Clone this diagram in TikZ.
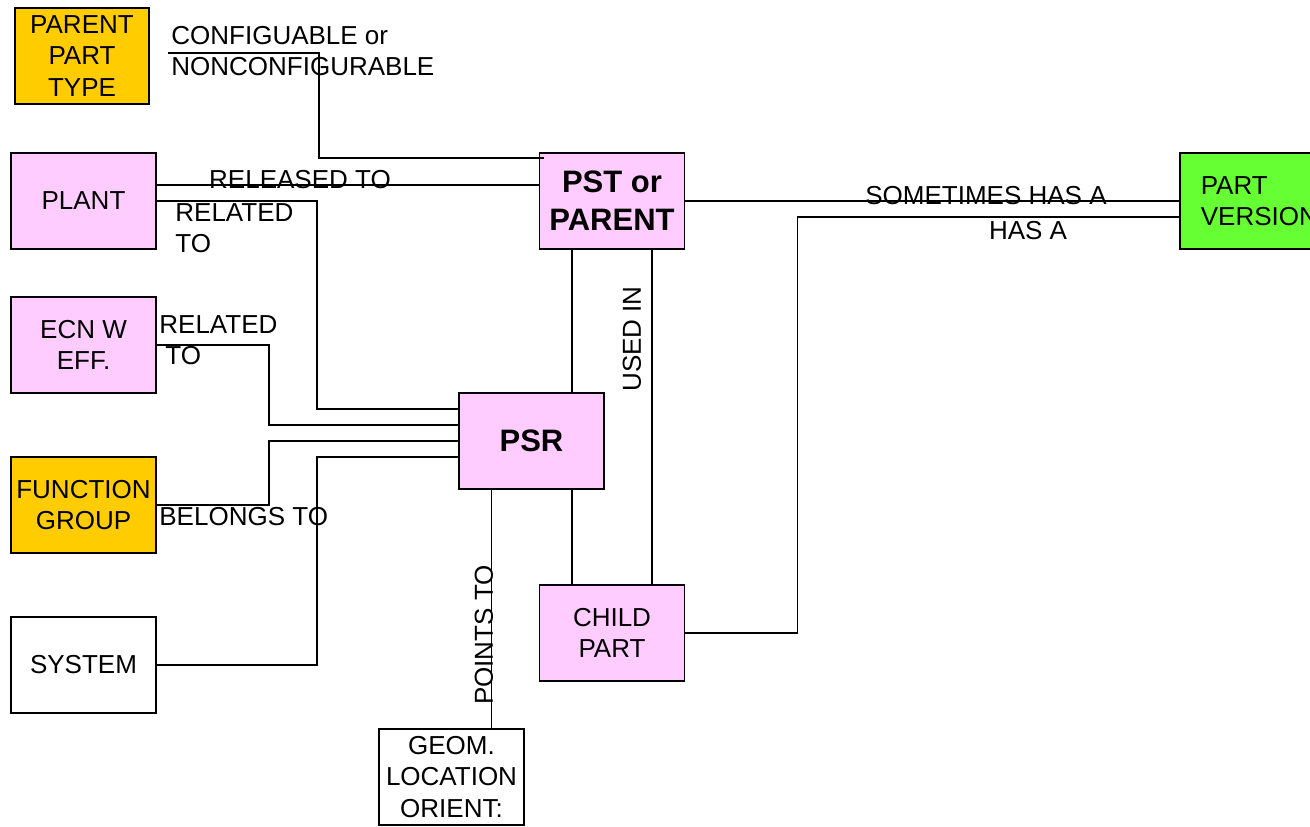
\documentclass[tikz,border=0pt]{standalone}
\usepackage{fontspec}
\setmainfont{Liberation Sans}
\definecolor{psrpink}{HTML}{FFCCFF}
\definecolor{psryellow}{HTML}{FFCC00}
\definecolor{psrgreen}{HTML}{66FF33}
\usetikzlibrary{calc}

\begin{document}
\begin{tikzpicture}[
    x=0.5pt, y=-0.5pt,
    entity/.style={draw, line width=0.8pt, minimum width=72.5pt,
                   minimum height=48pt, align=center, inner sep=1pt,
                   font=\fontsize{13}{15.75}\selectfont},
    keyentity/.style={entity, font=\fontsize{15.5}{19}\selectfont\bfseries},
    link/.style={line width=0.8pt},
    linktext/.style={inner sep=0pt, font=\fontsize{13}{15.5}\selectfont}
]
\useasboundingbox (0,0) rectangle (1310,826);

% ── Left column ──
\node[entity, fill=psryellow, minimum width=67pt] (ptype) at (82,56) {PARENT\\PART\\TYPE};
\node[entity, fill=psrpink] (plant) at (83.5,201) {PLANT};
\node[entity, fill=psrpink] (ecn) at (83.5,345) {ECN W\\EFF.};
\node[entity, fill=psryellow] (fgroup) at (83.5,505) {FUNCTION\\GROUP};
\node[entity, fill=white] (system) at (83.5,665) {SYSTEM};

% ── Middle ──
\node[keyentity, fill=psrpink] (pst) at (612,201) {PST or\\PARENT};
\node[keyentity, fill=psrpink] (psr) at (531.5,441) {PSR};
\node[entity, fill=psrpink] (child) at (612,633) {CHILD\\PART};
\node[entity, fill=white] (geom) at (451.5,777) {GEOM.\\LOCATION\\ORIENT:};

% ── Right (cut off at the page edge) ──
\node[entity, fill=psrgreen, anchor=west, align=left, inner xsep=10.5pt,
      text width=62pt] (pver) at (1179,201) {PART\\VERSION};

% ── Links into PST ──
\draw[link] ($(ptype.east)+(18,-3)$) -- ++(151,0) |- ($(pst.north west)+(5,6)$);
\draw[link] ($(plant.east)+(0,-16)$) -- ($(pst.west)+(0,-16)$);

% ── Links into PSR ──
\draw[link] (plant.east) -- ++(160,0) |- ($(psr.west)+(0,-32)$);
\draw[link] (ecn.east) -- ++(112,0) |- ($(psr.west)+(0,-16)$);
\draw[link] (fgroup.east) -- ++(112,0) |- (psr.west);
\draw[link] (system.east) -- ++(160,0) |- ($(psr.west)+(0,16)$);

% ── Vertical links ──
\draw[link] ($(pst.south)+(-40,0)$) coordinate (pstpsr) -- (pstpsr |- psr.north);
\draw[link] ($(pst.south)+(40,0)$) -- ($(child.north)+(40,0)$);
\draw[link] ($(child.north)+(-40,0)$) coordinate (psrchild) -- (psrchild |- psr.south);
\draw[link] ($(psr.south)+(-40,0)$) coordinate (psrgeom) -- (psrgeom |- geom.north);

% ── Links into PART VERSION ──
\draw[link] (pst.east) -- (pver.west);
\draw[link] (child.east) -- ++(112,0) |- ($(pver.west)+(0,16)$);

% ── Link texts ──
\node[linktext, anchor=west, align=left] (cfgtext) at (171,51) {CONFIGUABLE or\\NONCONFIGURABLE};
\node[linktext] (reltext) at (300,180) {RELEASED TO};
\node[linktext, anchor=west, align=left] (plantrel) at (175,228) {RELATED\\TO};
\node[linktext, anchor=west, align=left] (ecnrel) at (159,340) {RELATED\\\hspace*{3pt}TO};
\node[linktext, anchor=west] (belongs) at (159,517) {BELONGS TO};
\node[linktext, rotate=90] (usedin) at (632,339) {USED IN};
\node[linktext, rotate=90] (points) at (484,635) {POINTS TO};
\node[linktext] (sometimes) at (986,196) {SOMETIMES HAS A};
\node[linktext] (hasa) at (1028,231) {HAS A};

\end{tikzpicture}
\end{document}
